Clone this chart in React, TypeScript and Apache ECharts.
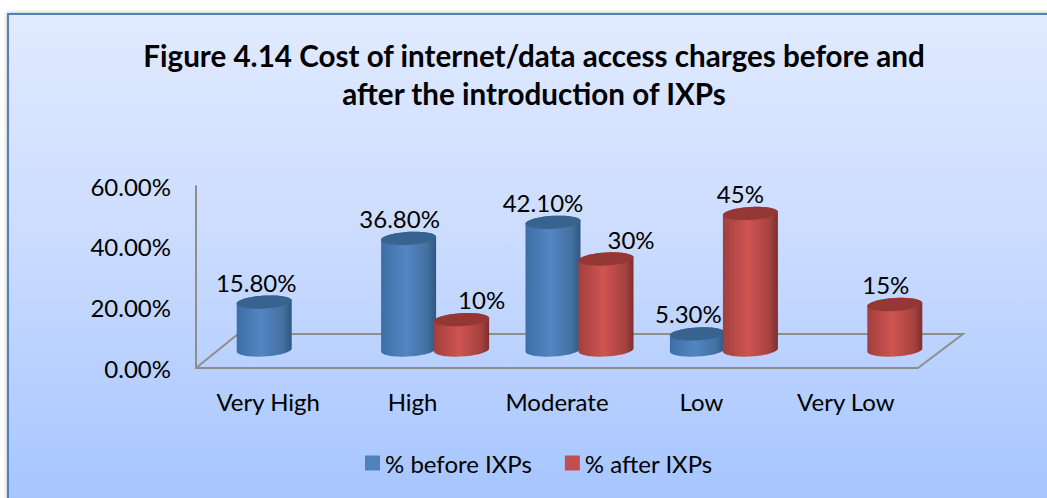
import React, { useEffect, useRef } from "react";
import * as echarts from "echarts";

const titleLines = [
  "Figure 4.14 Cost of internet/data access charges before and",
  "after the introduction of IXPs",
];
const categories = ["Very High", "High", "Moderate", "Low", "Very Low"];
const beforeValues: (number | null)[] = [15.8, 36.8, 42.1, 5.3, null];
const afterValues: (number | null)[] = [null, 10, 30, 45, 15];
const beforeLabels = ["15.80%", "36.80%", "42.10%", "5.30%", ""];
const afterLabels = ["", "10%", "30%", "45%", "15%"];
const seriesNames = ["% before IXPs", "% after IXPs"];

const FONT = "Lato";
const GRID = { left: 196, top: 186, width: 722, height: 182 };
const DEPTH_X = 45;
const DEPTH_Y = 34;
const BASE_LIFT = 18;
const HALF_W = 27.5;
const HALF_H = 6.5;
const TILT = 3;

const ellipsePoints = (cx: number, cy: number, from: number, to: number) => {
  const pts: number[][] = [];
  const n = 40;
  for (let i = 0; i <= n; i++) {
    const t = from + ((to - from) * i) / n;
    pts.push([
      cx + HALF_W * Math.cos(t),
      cy + HALF_H * Math.sin(t) - (TILT / 2) * Math.cos(t),
    ]);
  }
  return pts;
};

const cylinder = (
  labels: string[],
  dx: number,
  labelShift: number[],
  stops: string[],
  topColor: string,
) => (params: any, api: any) => {
  const v = api.value(1);
  const idx = api.value(0);
  if (v === null || v === undefined || isNaN(v)) return null;
  const top = api.coord([idx, v]);
  const base = api.coord([idx, 0]);
  const cx = top[0] + dx;
  const topY = top[1] - BASE_LIFT;
  const baseY = base[1] - BASE_LIFT;
  const back = ellipsePoints(cx, topY, Math.PI, 2 * Math.PI);
  const front = ellipsePoints(cx, baseY, 0, Math.PI);
  return {
    type: "group",
    children: [
      {
        type: "polygon",
        shape: { points: [...back, ...front] },
        style: {
          fill: new echarts.graphic.LinearGradient(0, 0, 1, 0, [
            { offset: 0, color: stops[0] },
            { offset: 0.45, color: stops[1] },
            { offset: 0.85, color: stops[2] },
            { offset: 1, color: stops[3] },
          ]),
        },
      },
      {
        type: "polygon",
        shape: { points: ellipsePoints(cx, topY, 0, 2 * Math.PI) },
        style: { fill: topColor },
      },
      {
        type: "text",
        x: cx + labelShift[idx],
        y: topY - 20,
        style: {
          text: labels[idx],
          fill: "#000000",
          font: `24px ${FONT}`,
          align: "center",
          verticalAlign: "middle",
        },
      },
    ],
  };
};

const floor = (params: any, api: any) => {
  const a = api.coord([0, 0]);
  const halfBand = api.size([1, 0])[0] / 2;
  const left = a[0] - halfBand;
  const right = left + GRID.width;
  const y = a[1];
  return {
    type: "polyline",
    shape: {
      points: [
        [left, y],
        [left + DEPTH_X - 3, y - DEPTH_Y],
        [right + DEPTH_X, y - DEPTH_Y],
        [right, y],
      ],
    },
    style: { stroke: "#8E8E8E", lineWidth: 2, fill: "none" },
  };
};

const option = {
  animation: false,
  backgroundColor: "#ffffff",
  graphic: [
    {
      type: "rect",
      z: -10,
      shape: { x: 8, y: 14, width: 1100, height: 600 },
      style: {
        fill: new echarts.graphic.LinearGradient(0, 0, 0, 1, [
          { offset: 0, color: "#E1EAFF" },
          { offset: 0.35, color: "#CDDDFF" },
          { offset: 0.8, color: "#A7C6FF" },
          { offset: 1, color: "#A7C6FF" },
        ]),
        stroke: "#4F81BD",
        lineWidth: 2,
        shadowBlur: 4,
        shadowColor: "rgba(0,0,0,0.3)",
      },
    },
  ],
  title: {
    text: titleLines.join("\n"),
    left: 529,
    top: 31,
    textAlign: "center",
    textStyle: {
      fontFamily: FONT,
      fontWeight: "bold",
      fontSize: 29.6,
      lineHeight: 38,
      color: "#000000",
    },
  },
  legend: {
    data: seriesNames,
    left: 360,
    top: 446,
    icon: "rect",
    itemWidth: 15,
    itemHeight: 15,
    itemGap: 33,
    textStyle: { fontFamily: FONT, fontSize: 24, color: "#000000" },
  },
  grid: { ...GRID },
  xAxis: {
    type: "category",
    data: categories,
    axisLine: { lineStyle: { color: "#8E8E8E", width: 2 } },
    axisTick: { show: false },
    axisLabel: { fontFamily: FONT, fontSize: 24, color: "#000000", margin: 21 },
  },
  yAxis: {
    type: "value",
    min: 0,
    max: 60,
    interval: 20,
    splitLine: { show: false },
    axisLine: { show: true, lineStyle: { color: "#8E8E8E", width: 2 } },
    axisTick: { show: false },
    axisLabel: {
      fontFamily: FONT,
      fontSize: 24,
      color: "#000000",
      margin: 25,
      formatter: (v: number) => v.toFixed(2) + "%",
    },
  },
  series: [
    {
      type: "custom",
      name: "floor",
      silent: true,
      data: [[0, 0]],
      encode: { x: 0, y: 1 },
      renderItem: floor,
      z: 1,
    },
    {
      type: "custom",
      name: seriesNames[0],
      itemStyle: { color: "#4F81BD" },
      data: beforeValues.map((v, i) => [i, v]),
      encode: { x: 0, y: 1 },
      renderItem: cylinder(beforeLabels, -4, [-8, -9, -10, -9, 0], ["#3D6FA6", "#5286C3", "#42709F", "#2F5680"], "#38628F"),
      z: 2,
    },
    {
      type: "custom",
      name: seriesNames[1],
      itemStyle: { color: "#C0504D" },
      data: afterValues.map((v, i) => [i, v]),
      encode: { x: 0, y: 1 },
      renderItem: cylinder(afterLabels, 49, [0, 20, 25, -10, -9], ["#A23F3D", "#CF5451", "#A54240", "#7D2E2C"], "#953735"),
      z: 3,
    },
  ],
};

export default function App() {
  const ref = useRef<HTMLDivElement>(null);
  useEffect(() => {
    document.body.style.margin = "0";
    const chart = echarts.init(ref.current!, undefined, { renderer: "svg" });
    chart.setOption(option as any);
    return () => chart.dispose();
  }, []);
  return <div ref={ref} style={{ width: 1047, height: 498 }} />;
}
